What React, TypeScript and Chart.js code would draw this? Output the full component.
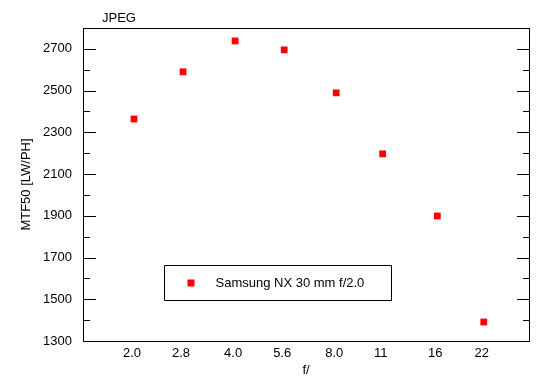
import React, { useEffect, useRef } from "react";
import { Chart, registerables } from "chart.js";

Chart.register(...registerables);

const fStops = [2.0, 2.8, 4.0, 5.6, 8.0, 11, 16, 22];
const fLabels = ["2.0", "2.8", "4.0", "5.6", "8.0", "11", "16", "22"];
const mtf50 = [2364, 2590, 2738, 2695, 2489, 2197, 1899, 1391];
const yMajorTicks = [1300, 1500, 1700, 1900, 2100, 2300, 2500, 2700];
const yMinorTicks = [1400, 1600, 1800, 2000, 2200, 2400, 2600, 2800];
const seriesLabel = "Samsung NX 30 mm f/2.0";
const chartTitle = "JPEG";

const FONT = "'Liberation Sans', Arial, sans-serif";

const framePlugin = {
  id: "frame",
  afterDraw(chart: any) {
    const { ctx, chartArea } = chart;
    const { left, right, top, bottom } = chartArea;
    const y = chart.scales.y;
    ctx.save();
    ctx.strokeStyle = "#000";
    ctx.lineWidth = 1;
    ctx.beginPath();
    ctx.rect(Math.round(left) + 0.5, Math.round(top) + 0.5, Math.round(right - left), Math.round(bottom - top));
    ctx.stroke();
    const drawTick = (v: number, len: number) => {
      const py = Math.round(y.getPixelForValue(v)) + 0.5;
      ctx.beginPath();
      ctx.moveTo(Math.round(left), py);
      ctx.lineTo(Math.round(left) + len, py);
      ctx.moveTo(Math.round(right) + 1, py);
      ctx.lineTo(Math.round(right) + 1 - len, py);
      ctx.stroke();
    };
    yMajorTicks.forEach((v) => drawTick(v, 13));
    yMinorTicks.forEach((v) => drawTick(v, 7));

    // title
    ctx.fillStyle = "#000";
    ctx.font = `13px ${FONT}`;
    ctx.textAlign = "left";
    ctx.textBaseline = "middle";
    ctx.fillText(chartTitle, left + 19, 18);

    // legend box
    const bx = left + 81.5;
    const by = top + 237.5;
    const bw = 227;
    const bh = 35;
    ctx.beginPath();
    ctx.rect(bx, by, bw, bh);
    ctx.stroke();
    ctx.fillStyle = "#ff0000";
    ctx.fillRect(bx + 23, by + 14, 7, 7);
    ctx.fillStyle = "#000";
    ctx.fillText(seriesLabel, bx + 51, by + 17.5);
    ctx.restore();
  },
};

export default function App() {
  const ref = useRef<HTMLCanvasElement | null>(null);
  useEffect(() => {
    if (!ref.current) return;
    const chart = new Chart(ref.current, {
      type: "scatter",
      data: {
        datasets: [
          {
            label: seriesLabel,
            data: fStops.map((f, i) => ({ x: f, y: mtf50[i] })),
            pointStyle: "rect",
            pointRadius: 4.8,
            pointHoverRadius: 4.8,
            backgroundColor: "#ff0000",
            borderColor: "#ff0000",
            borderWidth: 0,
          },
        ],
      },
      options: {
        animation: false,
        responsive: false,
        devicePixelRatio: 1,
        layout: { padding: { left: 0, top: 28, right: 21, bottom: 0 } },
        plugins: {
          legend: { display: false },
          tooltip: { enabled: false },
          title: { display: false },
        },
        scales: {
          x: {
            type: "logarithmic",
            min: 1.41,
            max: 30,
            grid: { display: false, drawTicks: false },
            border: { display: false },
            afterBuildTicks: (scale: any) => {
              scale.ticks = fStops.map((v) => ({ value: v }));
            },
            afterFit: (scale: any) => {
              scale.height = 48;
            },
            ticks: {
              autoSkip: false,
              maxRotation: 0,
              padding: 5,
              labelOffset: -2,
              color: "#000",
              font: { family: FONT, size: 13 },
              callback: (v: any) => {
                const i = fStops.indexOf(Number(v));
                return i >= 0 ? fLabels[i] : "";
              },
            },
            title: {
              display: true,
              text: "f/",
              color: "#000",
              font: { family: FONT, size: 13 },
              padding: { top: 0, bottom: 11 },
            },
          },
          y: {
            type: "linear",
            min: 1300,
            max: 2800,
            grid: { display: false, drawTicks: false },
            border: { display: false },
            afterBuildTicks: (scale: any) => {
              scale.ticks = yMajorTicks.map((v) => ({ value: v }));
            },
            afterFit: (scale: any) => {
              scale.width = 83;
            },
            ticks: {
              padding: 11,
              color: "#000",
              font: { family: FONT, size: 13 },
              callback: (v: any) => String(v),
            },
            title: {
              display: true,
              text: "MTF50 [LW/PH]",
              color: "#000",
              font: { family: FONT, size: 13 },
              padding: { top: 19, bottom: 0 },
            },
          },
        },
      },
      plugins: [framePlugin],
    });
    return () => chart.destroy();
  }, []);
  return (
    <div style={{ position: "absolute", left: 0, top: 0, width: 550, height: 389, background: "#fff" }}>
      <canvas ref={ref} width={550} height={389} style={{ width: 550, height: 389, display: "block" }} />
    </div>
  );
}
